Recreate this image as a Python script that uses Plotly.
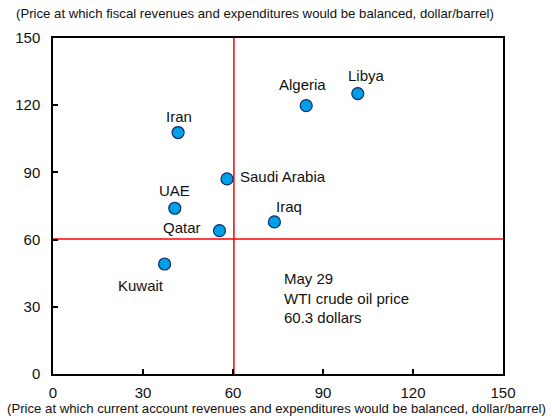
import plotly.graph_objects as go

countries = ["Libya", "Algeria", "Iran", "Saudi Arabia", "UAE", "Iraq", "Qatar", "Kuwait"]
current_account_breakeven = [101.6, 84.4, 41.7, 58.0, 40.6, 73.8, 55.5, 37.2]
fiscal_breakeven = [125.2, 119.8, 107.8, 87.1, 74.0, 67.9, 64.0, 49.1]
wti_price = 60.3
axis_ticks = [0, 30, 60, 90, 120, 150]
wti_note = ["May 29", "WTI crude oil price", "60.3 dollars"]

# label placement (pixel offsets relative to each marker), style only
label_style = {
    "Libya": dict(xshift=9, yshift=18, xanchor="center"),
    "Algeria": dict(xshift=-4, yshift=21, xanchor="center"),
    "Iran": dict(xshift=1, yshift=16, xanchor="center"),
    "Saudi Arabia": dict(xshift=11, yshift=2, xanchor="left"),
    "UAE": dict(xshift=0, yshift=18, xanchor="center"),
    "Iraq": dict(xshift=15, yshift=15, xanchor="center"),
    "Qatar": dict(xshift=-17, yshift=3, xanchor="right"),
    "Kuwait": dict(xshift=1, yshift=-21, xanchor="right"),
}

FONT = "Liberation Sans, Arial, sans-serif"
W, H = 552, 418
L, R, T, B = 53, 49, 38, 44
PW, PH = W - L - R, H - T - B


def px_to_paper(px, py):
    return (px - L) / PW, (H - B - py) / PH


fig = go.Figure()
fig.add_trace(go.Scatter(
    x=current_account_breakeven, y=fiscal_breakeven, mode="markers",
    marker=dict(size=12, color="#00A0E9", line=dict(color="#0A2A6B", width=1.2)),
    hoverinfo="text", text=countries, showlegend=False,
))

annotations = []
for c, xv, yv in zip(countries, current_account_breakeven, fiscal_breakeven):
    st = label_style[c]
    annotations.append(dict(
        x=xv, y=yv, xref="x", yref="y", text=c, showarrow=False,
        xanchor=st["xanchor"], yanchor="middle",
        xshift=st["xshift"], yshift=st["yshift"],
        font=dict(family=FONT, size=15, color="#111111"),
    ))

annotations.append(dict(
    x=76.4, y=33.9, xref="x", yref="y", text="<br>".join(wti_note),
    showarrow=False, xanchor="left", yanchor="middle", align="left",
    font=dict(family=FONT, size=15, color="#111111"),
))
tx, ty = px_to_paper(14, 13)
annotations.append(dict(
    x=tx, y=ty, xref="paper", yref="paper", xanchor="left", yanchor="middle",
    text="(Price at which fiscal revenues and expenditures would be balanced, dollar/barrel)",
    showarrow=False, font=dict(family=FONT, size=13.2, color="#111111"),
))
bx, by = px_to_paper(276, 408)
annotations.append(dict(
    x=bx, y=by, xref="paper", yref="paper", xanchor="center", yanchor="middle",
    text="(Price at which current account revenues and expenditures would be balanced, dollar/barrel)",
    showarrow=False, font=dict(family=FONT, size=13.2, color="#111111"),
))

shapes = [
    dict(type="line", xref="x", yref="y", x0=wti_price, x1=wti_price, y0=0, y1=150,
         line=dict(color="#FF0000", width=1.5), layer="below"),
    dict(type="line", xref="x", yref="y", x0=0, x1=150, y0=wti_price, y1=wti_price,
         line=dict(color="#FF0000", width=1.5), layer="below"),
]

axis_common = dict(
    range=[0, 150], tickvals=axis_ticks, ticktext=[str(t) for t in axis_ticks],
    ticks="inside", ticklen=5, tickcolor="black", tickwidth=1.5,
    showline=True, linecolor="black", linewidth=1.5, mirror=True,
    showgrid=False, zeroline=False, automargin=False,
    tickfont=dict(family=FONT, size=15, color="#111111"),
)

fig.update_layout(
    width=W, height=H,
    margin=dict(l=L, r=R, t=T, b=B),
    paper_bgcolor="white", plot_bgcolor="white",
    xaxis=dict(**axis_common, ticklabelstandoff=4),
    yaxis=dict(**axis_common, ticklabelstandoff=8),
    annotations=annotations, shapes=shapes,
)

fig.write_html("out.html", config={"displayModeBar": False},
               post_script="document.body.style.margin='0px';")
